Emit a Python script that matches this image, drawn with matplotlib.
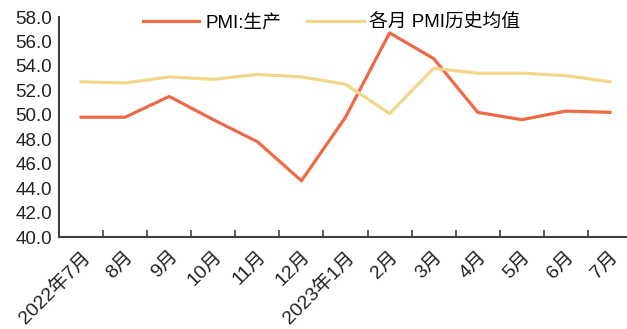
import numpy as np
import matplotlib
matplotlib.use("Agg")
from matplotlib import pyplot as plt

plt.rcParams['font.family'] = ['Liberation Sans', 'Noto Sans CJK SC']

months = ['2022年7月', '8月', '9月', '10月', '11月', '12月', '2023年1月',
          '2月', '3月', '4月', '5月', '6月', '7月']
pmi_prod = [49.8, 49.8, 51.5, 49.6, 47.8, 44.6, 49.8, 56.7, 54.6, 50.2, 49.6, 50.3, 50.2]
hist_avg = [52.7, 52.6, 53.1, 52.9, 53.3, 53.1, 52.5, 50.1, 53.8, 53.4, 53.4, 53.2, 52.7]

fig = plt.figure(figsize=(6.27, 3.29), dpi=100)
ax = fig.add_axes([59 / 627, 1 - 237 / 329, 573 / 627, 220 / 329])

x = np.arange(len(months))
ax.plot(x, pmi_prod, color='#EE6A45', lw=2.3, label='PMI:生产')
ax.plot(x, hist_avg, color='#F2D78A', lw=2.3, label='各月 PMI历史均值')

ax.set_xlim(-0.5, len(months) - 0.5)
ax.set_ylim(40, 58)
ax.set_yticks(np.arange(40, 58.1, 2))
ax.set_yticklabels([f'{v:.1f}' for v in np.arange(40, 58.1, 2)], fontsize=13.5, color='#222222')

ax.set_xticks(x)
ax.set_xticklabels(months, rotation=45, ha='right', rotation_mode='anchor',
                   fontsize=14, color='#222222')
ax.set_xticks(np.arange(0.5, len(months) - 0.5, 1), minor=True)
ax.tick_params(axis='x', which='major', length=0, pad=8)
ax.tick_params(axis='x', which='minor', direction='in', length=5, width=1.2, color='#404040')
ax.tick_params(axis='y', length=0, pad=5)

for s in ['top', 'right']:
    ax.spines[s].set_visible(False)
for s in ['left', 'bottom']:
    ax.spines[s].set_color('#404040')
    ax.spines[s].set_linewidth(1.5)

ax.legend(loc='center', bbox_to_anchor=(0.476, 0.975), ncol=2, frameon=False,
          fontsize=13.5, handlelength=3.0, columnspacing=1.4, handletextpad=0.3)

fig.savefig('out.png', dpi=100)
